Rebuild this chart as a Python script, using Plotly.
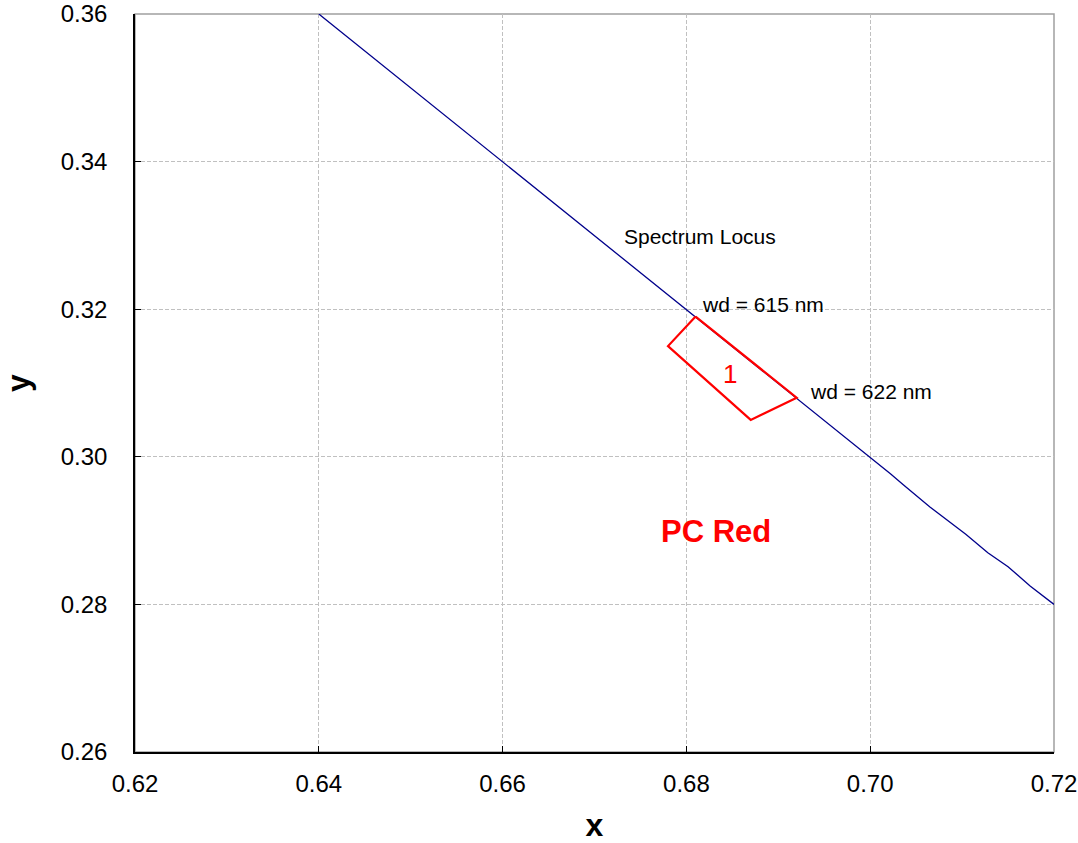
import plotly.graph_objects as go

# Spectrum locus points
locus_x = [0.640, 0.650, 0.660, 0.670, 0.680, 0.690, 0.700, 0.7022, 0.7036, 0.7065, 0.7104, 0.7128, 0.7150, 0.7174, 0.720]
locus_y = [0.360, 0.350, 0.340, 0.330, 0.320, 0.310, 0.300, 0.2977, 0.2962, 0.2932, 0.2895, 0.2870, 0.2851, 0.2825, 0.280]

# PC Red chromaticity region 1
box_x = [0.681, 0.678, 0.687, 0.692, 0.681]
box_y = [0.319, 0.315, 0.305, 0.308, 0.319]

x_ticks = [0.62, 0.64, 0.66, 0.68, 0.70, 0.72]
y_ticks = [0.26, 0.28, 0.30, 0.32, 0.34, 0.36]

fig = go.Figure()
fig.add_trace(go.Scatter(x=locus_x, y=locus_y, mode="lines",
                         line=dict(color="#00008B", width=1.3), hoverinfo="skip"))
fig.add_trace(go.Scatter(x=box_x, y=box_y, mode="lines",
                         line=dict(color="#FF0000", width=2.2), hoverinfo="skip"))

font_main = "Arial, Liberation Sans, sans-serif"

fig.add_annotation(x=0.6730, y=0.3299, text="Spectrum Locus", showarrow=False,
                   xanchor="left", yanchor="middle", font=dict(size=21, color="black", family=font_main))
fig.add_annotation(x=0.6815, y=0.3206, text="wd = 615 nm", showarrow=False,
                   xanchor="left", yanchor="middle", font=dict(size=21, color="black", family=font_main))
fig.add_annotation(x=0.6932, y=0.3088, text="wd = 622 nm", showarrow=False,
                   xanchor="left", yanchor="middle", font=dict(size=21, color="black", family=font_main))
fig.add_annotation(x=0.6847, y=0.3112, text="1", showarrow=False,
                   xanchor="center", yanchor="middle", font=dict(size=26, color="#FF0000", family=font_main))
fig.add_annotation(x=0.6832, y=0.2899, text="<b>PC Red</b>", showarrow=False,
                   xanchor="center", yanchor="middle", font=dict(size=31, color="#FF0000", family=font_main))

fig.add_shape(type="rect", xref="paper", yref="paper", x0=0, y0=0, x1=1, y1=1,
              line=dict(color="#A0A0A0", width=1.5), layer="below")

axis_common = dict(
    showgrid=True, gridcolor="#C0C0C0", griddash="4px,2px", gridwidth=1,
    showline=True, linecolor="black", linewidth=1.5,
    ticks="inside", ticklen=6, tickcolor="black", tickwidth=1,
    zeroline=False, automargin=False,
    tickfont=dict(size=24, color="black", family=font_main),
)

fig.update_xaxes(range=[0.62, 0.72], tickvals=x_ticks, ticktext=[f"{v:.2f}" for v in x_ticks],
                 ticklabelstandoff=9,
                 title=dict(text="<b>x</b>", font=dict(size=32, color="black", family=font_main), standoff=18),
                 **axis_common)
fig.update_yaxes(range=[0.26, 0.36], tickvals=y_ticks, ticktext=[f"{v:.2f}" for v in y_ticks],
                 ticklabelstandoff=21,
                 title=dict(text="<b>y</b>", font=dict(size=32, color="black", family=font_main), standoff=30),
                 **axis_common)

fig.update_layout(
    width=1078, height=843,
    margin=dict(l=135, r=24, t=14, b=91),
    plot_bgcolor="white", paper_bgcolor="white",
    showlegend=False,
)

fig.write_html("out.html")
